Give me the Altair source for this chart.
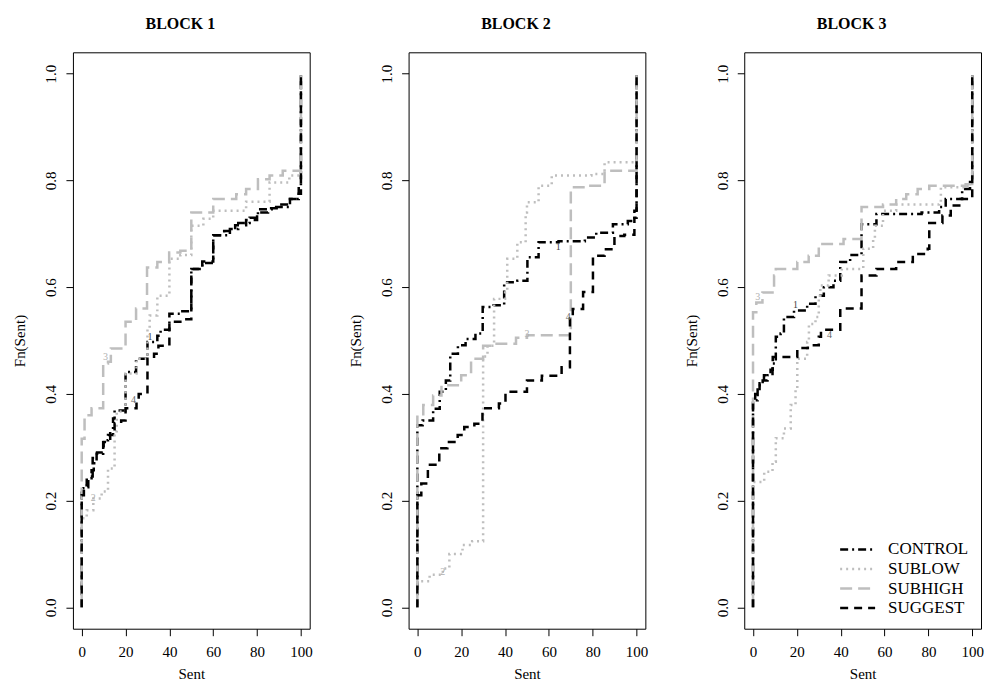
import altair as alt
import pandas as pd

GROUPS = ["CONTROL", "SUBLOW", "SUBHIGH", "SUGGEST"]
TITLES = ["BLOCK 1", "BLOCK 2", "BLOCK 3"]
X_TICKS = [0, 20, 40, 60, 80, 100]
Y_TICKS = [0.0, 0.2, 0.4, 0.6, 0.8, 1.0]

# ---------------- BLOCK 1 ----------------
B1_CONTROL_X = [0, 0, 0.7, 2.3, 4.5, 5.5, 6.8, 9.8, 12, 14.3, 15, 20, 24.8, 30, 34.5, 36, 40, 45, 50, 55, 60, 67.6, 71.4, 76.6, 80.4, 88.7, 95, 99, 100]
B1_CONTROL_Y = [0, 0.223, 0.229, 0.242, 0.257, 0.27, 0.288, 0.313, 0.323, 0.354, 0.369, 0.441, 0.466, 0.497, 0.509, 0.52, 0.55, 0.555, 0.634, 0.645, 0.697, 0.709, 0.72, 0.73, 0.746, 0.75, 0.765, 0.79, 1.0]
B1_SUBLOW_X = [0, 0, 2.3, 5.3, 9.1, 12, 15, 16, 20, 25, 30, 31, 34.5, 40, 45, 50, 55.5, 60, 75, 85.7, 94.7, 100]
B1_SUBLOW_Y = [0, 0.167, 0.182, 0.204, 0.217, 0.26, 0.33, 0.367, 0.438, 0.466, 0.522, 0.547, 0.584, 0.653, 0.66, 0.715, 0.728, 0.743, 0.76, 0.796, 0.809, 1.0]
B1_SUBHIGH_X = [0, 0, 1.3, 4.5, 9.8, 12, 13.3, 20, 24.8, 29.8, 34.5, 39.9, 45, 50, 60, 70.5, 75, 80.4, 85.7, 91.7, 100]
B1_SUBHIGH_Y = [0, 0.316, 0.36, 0.373, 0.457, 0.46, 0.485, 0.535, 0.56, 0.637, 0.647, 0.665, 0.668, 0.74, 0.765, 0.774, 0.784, 0.802, 0.809, 0.818, 1.0]
B1_SUGGEST_X = [0, 0, 1, 3, 5, 7, 10, 13, 15, 18, 20, 25, 26, 30, 33, 35, 40, 45, 50, 55, 60, 65, 70, 75, 80, 85, 90, 95, 99, 100]
B1_SUGGEST_Y = [0, 0.21, 0.225, 0.245, 0.28, 0.29, 0.31, 0.33, 0.345, 0.35, 0.373, 0.385, 0.40, 0.466, 0.475, 0.49, 0.535, 0.54, 0.634, 0.648, 0.697, 0.705, 0.716, 0.726, 0.74, 0.748, 0.755, 0.765, 0.775, 1.0]

# ---------------- BLOCK 2 ----------------
B2_CONTROL_X = [0, 0, 2.4, 7.2, 10.2, 13, 15, 18.5, 22, 26.5, 29.8, 34.8, 39.6, 45.6, 50.2, 55.3, 64.4, 76.4, 81.6, 89.2, 96, 99, 100]
B2_CONTROL_Y = [0, 0.341, 0.35, 0.372, 0.404, 0.425, 0.475, 0.491, 0.503, 0.513, 0.563, 0.566, 0.609, 0.612, 0.656, 0.684, 0.686, 0.693, 0.702, 0.718, 0.724, 0.743, 1.0]
B2_SUBLOW_X = [0, 0, 5.6, 11.6, 14.6, 20.6, 25, 30, 32, 35, 40, 41, 45.6, 49.4, 50, 55.3, 61.3, 79.4, 85.4, 100]
B2_SUBLOW_Y = [0, 0.049, 0.061, 0.073, 0.10, 0.117, 0.124, 0.47, 0.49, 0.578, 0.59, 0.653, 0.684, 0.74, 0.759, 0.79, 0.809, 0.812, 0.834, 1.0]
B2_SUBHIGH_X = [0, 0, 2.7, 7.2, 11, 20, 24.5, 30, 35, 45, 50, 70, 78, 85.4, 100]
B2_SUBHIGH_Y = [0, 0.357, 0.379, 0.397, 0.416, 0.435, 0.466, 0.49, 0.494, 0.505, 0.51, 0.787, 0.79, 0.818, 1.0]
B2_SUGGEST_X = [0, 0, 1.8, 4.8, 10, 13.7, 18.4, 21.4, 26, 29.7, 37.2, 40.2, 50, 56.8, 65.8, 69.6, 70.9, 75.6, 80.1, 85.4, 89.9, 94.4, 99, 100]
B2_SUGGEST_Y = [0, 0.21, 0.232, 0.267, 0.298, 0.31, 0.323, 0.338, 0.344, 0.373, 0.382, 0.404, 0.425, 0.434, 0.45, 0.541, 0.559, 0.591, 0.659, 0.671, 0.696, 0.698, 0.73, 1.0]

# ---------------- BLOCK 3 ----------------
B3_CONTROL_X = [0, 0, 2.1, 4.4, 6.6, 8.9, 10.4, 12.6, 14.1, 18.7, 24.7, 28.5, 32.3, 36.7, 39.8, 44.3, 49.5, 56.3, 76.9, 84.9, 87.9, 95.4, 99, 100]
B3_CONTROL_Y = [0, 0.388, 0.416, 0.425, 0.435, 0.457, 0.507, 0.513, 0.544, 0.556, 0.569, 0.584, 0.6, 0.612, 0.647, 0.66, 0.718, 0.737, 0.74, 0.75, 0.765, 0.784, 0.797, 1.0]
B3_SUBLOW_X = [0, 0, 5.1, 8.9, 10.4, 14.1, 17.2, 19.4, 20.2, 24.7, 25.5, 28.5, 30, 30.7, 34.5, 40.5, 50.3, 54.8, 55.6, 59.3, 65.3, 84.9, 85.7, 97, 100]
B3_SUBLOW_Y = [0, 0.235, 0.254, 0.273, 0.317, 0.335, 0.379, 0.41, 0.466, 0.497, 0.531, 0.544, 0.584, 0.603, 0.622, 0.634, 0.672, 0.69, 0.715, 0.743, 0.755, 0.758, 0.787, 0.79, 1.0]
B3_SUBHIGH_X = [0, 0, 1.5, 4.3, 9.6, 10.4, 20.2, 25.4, 30, 41.3, 49.5, 59.3, 65.3, 69.9, 75.1, 80.4, 97, 100]
B3_SUBHIGH_Y = [0, 0.553, 0.571, 0.59, 0.622, 0.634, 0.647, 0.659, 0.681, 0.69, 0.75, 0.755, 0.765, 0.774, 0.784, 0.79, 0.793, 1.0]
B3_SUGGEST_X = [0, 0, 1, 3, 5, 8, 9, 20.2, 25, 30, 31, 39.8, 49.5, 56.3, 65.3, 72.9, 79.7, 80.4, 86.4, 90.2, 94.7, 100]
B3_SUGGEST_Y = [0, 0.385, 0.40, 0.42, 0.435, 0.445, 0.469, 0.486, 0.491, 0.507, 0.52, 0.56, 0.622, 0.634, 0.647, 0.662, 0.672, 0.72, 0.734, 0.753, 0.765, 1.0]

# curve labels (labcurve-style numbers): block, text, group, x, y
LABEL_BLOCK = [1, 1, 1, 1, 2, 2, 2, 2, 3, 3, 3]
LABEL_TEXT = ["1", "2", "3", "4", "1", "2", "3", "4", "1", "3", "4"]
LABEL_GROUP = ["CONTROL", "SUBLOW", "SUBHIGH", "SUGGEST", "CONTROL", "SUBLOW", "SUBHIGH", "SUGGEST", "CONTROL", "SUBHIGH", "SUGGEST"]
LABEL_X = [31.1, 5.3, 10.8, 23.6, 64.3, 11.6, 50.0, 68.8, 19.4, 2.1, 34.9]
LABEL_Y = [0.506, 0.204, 0.469, 0.388, 0.675, 0.067, 0.513, 0.544, 0.566, 0.581, 0.51]

SERIES = {
    1: {"CONTROL": (B1_CONTROL_X, B1_CONTROL_Y), "SUBLOW": (B1_SUBLOW_X, B1_SUBLOW_Y),
        "SUBHIGH": (B1_SUBHIGH_X, B1_SUBHIGH_Y), "SUGGEST": (B1_SUGGEST_X, B1_SUGGEST_Y)},
    2: {"CONTROL": (B2_CONTROL_X, B2_CONTROL_Y), "SUBLOW": (B2_SUBLOW_X, B2_SUBLOW_Y),
        "SUBHIGH": (B2_SUBHIGH_X, B2_SUBHIGH_Y), "SUGGEST": (B2_SUGGEST_X, B2_SUGGEST_Y)},
    3: {"CONTROL": (B3_CONTROL_X, B3_CONTROL_Y), "SUBLOW": (B3_SUBLOW_X, B3_SUBLOW_Y),
        "SUBHIGH": (B3_SUBHIGH_X, B3_SUBHIGH_Y), "SUGGEST": (B3_SUGGEST_X, B3_SUGGEST_Y)},
}

rows = []
for b, groups in SERIES.items():
    for g in GROUPS:
        xs, ys = groups[g]
        for i, (xv, yv) in enumerate(zip(xs, ys)):
            rows.append({"block": b, "group": g, "idx": i, "Sent": xv, "Fn": yv})
df = pd.DataFrame(rows)

lab_df = pd.DataFrame({"block": LABEL_BLOCK, "text": LABEL_TEXT, "group": LABEL_GROUP,
                       "Sent": LABEL_X, "Fn": LABEL_Y})
leg_df = pd.DataFrame({"entry": GROUPS})

FONT = "Liberation Serif"
GREY = "#bebebe"
color_scale = alt.Scale(domain=GROUPS, range=["black", GREY, GREY, "black"])
lab_scale = alt.Scale(domain=GROUPS, range=["#444444", "#b0b0b0", "#b0b0b0", "#666666"])
dash_scale = alt.Scale(domain=GROUPS, range=[[8, 4, 2, 4], [2, 4], [12, 6], [8, 6]])

W, H = 237, 577

x_enc = alt.X("Sent:Q", scale=alt.Scale(domain=[-4, 104], nice=False, zero=False),
              axis=alt.Axis(values=X_TICKS, format="d", title="Sent", grid=False, domain=False,
                            tickSize=7, tickColor="black", labelPadding=9, titlePadding=7,
                            labelFontSize=15, titleFontSize=15, titleFontWeight="normal",
                            labelColor="black", titleColor="black", labelFont=FONT, titleFont=FONT))
y_enc = alt.Y("Fn:Q", scale=alt.Scale(domain=[-0.04, 1.04], nice=False, zero=False),
              axis=alt.Axis(values=Y_TICKS, format=".1f", title="Fn(Sent)", grid=False, domain=False,
                            tickSize=7, tickColor="black", labelAngle=270, labelAlign="center",
                            labelBaseline="bottom", labelPadding=7, titlePadding=16,
                            labelFontSize=15, titleFontSize=15, titleFontWeight="normal",
                            labelColor="black", titleColor="black", labelFont=FONT, titleFont=FONT))


def panel(b):
    d = df[df["block"] == b]
    lines = alt.Chart(d).mark_line(interpolate="step-after", strokeWidth=2.5, strokeCap="butt").encode(
        x=x_enc, y=y_enc,
        color=alt.Color("group:N", scale=color_scale, legend=None),
        strokeDash=alt.StrokeDash("group:N", scale=dash_scale, legend=None),
        order=alt.Order("idx:Q"),
    )
    labs = alt.Chart(lab_df[lab_df["block"] == b]).mark_text(fontSize=10, font=FONT).encode(
        x="Sent:Q", y="Fn:Q", text="text:N",
        fill=alt.Fill("group:N", scale=lab_scale, legend=None),
    )
    main = alt.layer(lines, labs)
    title = alt.TitleParams(TITLES[b - 1], font=FONT, fontSize=16, fontWeight="bold",
                            anchor="middle", frame="group", dx=-11, offset=20, color="black")
    if b == 3:
        leg_y = alt.Y("entry:N", sort=GROUPS, axis=None,
                      scale=alt.Scale(type="point", range=[497.7, 556.3], padding=0))
        leg_rule = alt.Chart(leg_df).mark_rule(strokeWidth=2.5, strokeCap="butt").encode(
            x=alt.value(96), x2=alt.value(131), y=leg_y,
            color=alt.Color("entry:N", scale=color_scale, legend=None),
            strokeDash=alt.StrokeDash("entry:N", scale=dash_scale, legend=None),
        )
        leg_text = alt.Chart(leg_df).mark_text(align="left", baseline="middle", fontSize=17,
                                               font=FONT, color="black").encode(
            x=alt.value(144), y=leg_y, text="entry:N",
        )
        legend = alt.layer(leg_rule, leg_text)
        ch = alt.layer(main, legend).resolve_scale(y="independent")
    else:
        ch = main
    return ch.properties(width=W, height=H, title=title)


chart = alt.hconcat(panel(1), panel(2), panel(3), spacing=35).properties(
    padding={"left": 4, "top": 7, "right": 0, "bottom": 0}
).configure_view(stroke="black", strokeWidth=1)

chart.save("out.html", embed_options={"renderer": "svg", "actions": False})
